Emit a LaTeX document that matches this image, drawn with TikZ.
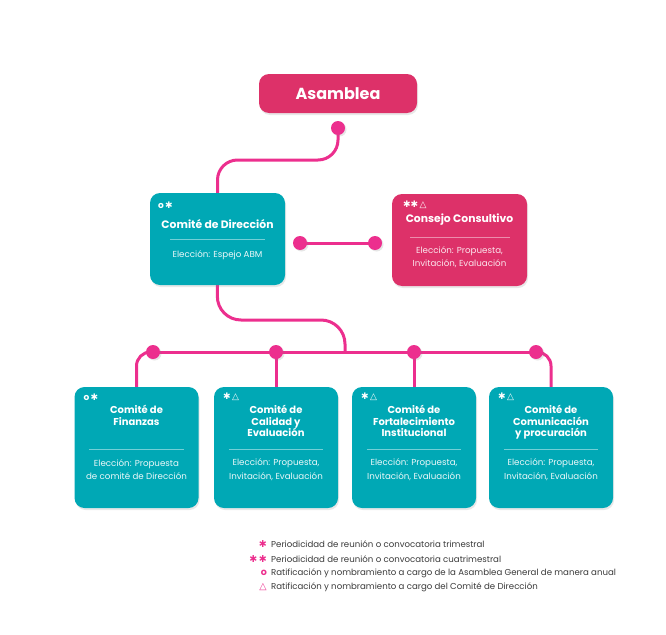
\documentclass[tikz,border=0pt]{standalone}
\usepackage{fontspec}
\setmainfont{Poppins}
\newfontfamily\symfont{DejaVu Sans}
\usetikzlibrary{positioning,calc,shadows,backgrounds}
\definecolor{tealbox}{HTML}{00A8B5}
\definecolor{pinkbox}{HTML}{DD3169}
\definecolor{pinkline}{HTML}{EC2F8E}
\definecolor{legendgrey}{HTML}{3A3A3A}
\newcommand\sAst{{\symfont ✱}}
\newcommand\sRing{\textbf{o}}
\newcommand\sTri{{\symfont △}}
\tikzset{
  box/.style={
    rectangle,
    rounded corners=10pt,
    inner sep=0pt,
    drop shadow={opacity=.18, shadow xshift=1pt, shadow yshift=-2pt}},
  tealcard/.style={box, fill=tealbox, minimum width=135pt, minimum height=92pt},
  pinkcard/.style={box, fill=pinkbox, minimum width=135pt, minimum height=92pt},
  smallcard/.style={box, fill=tealbox, minimum width=124pt, minimum height=121pt},
  dot/.style={
    circle, fill=pinkline, inner sep=0pt, minimum size=14pt,
    drop shadow={opacity=.2, shadow xshift=1.5pt, shadow yshift=-1.5pt}},
  link/.style={draw=pinkline, line width=3pt},
  marks/.style={text=white, inner sep=0pt, font=\fontsize{9}{9}\selectfont},
  bigtitle/.style={text=white, inner sep=0pt, font=\fontsize{10.8}{12}\selectfont\bfseries},
  smalltitle/.style={text=white, inner sep=0pt, align=center,
    font=\fontsize{10}{11.8}\selectfont\bfseries},
  election/.style={text=white!92!tealbox, inner sep=0pt, align=center,
    font=\fontsize{8.7}{13.5}\selectfont},
  rule/.style={draw=white, opacity=.45, line width=.7pt},
  legend/.style={text=legendgrey, inner sep=0pt, anchor=west,
    font=\fontsize{8.6}{10}\selectfont},
  legendmark/.style={text=pinkline, inner sep=0pt, anchor=east,
    font=\fontsize{9.5}{10}\selectfont}
}

\begin{document}
\begin{tikzpicture}[x=1pt, y=-1pt]
    \useasboundingbox (0,0) rectangle (666,634);

    %top
    \node[box, fill=pinkbox, minimum width=158pt, minimum height=39pt,
      text=white, font=\fontsize{16}{18}\selectfont\bfseries] (asm) at (338,93.5) {Asamblea};
    \node[dot] (adot) at (338,128) {};

    %comite de direccion
    \node[tealcard] (dir) at (217.5,239) {};
    \node[marks, anchor=west] (dirmk) at ($(dir.north west)+(8,12)$) {\sRing\,\sAst};
    \node[bigtitle] (dirtt) at ($(dir.north)+(0,31)$) {Comité de Dirección};
    \draw[rule] ($(dir.north west)+(20,47)$) -- ($(dir.north east)+(-20,47)$);
    \node[election] (direl) at ($(dir.north)+(0,62)$) {Elección: Espejo ABM};

    %consejo consultivo
    \node[pinkcard] (cons) at (459.5,240) {};
    \node[marks, anchor=west] (consmk) at ($(cons.north west)+(11,11)$) {\sAst\sAst\,\sTri};
    \node[bigtitle] (constt) at ($(cons.north)+(0,26)$) {Consejo Consultivo};
    \draw[rule] ($(cons.north west)+(18,44)$) -- ($(cons.north east)+(-17,44)$);
    \node[election, text=white!88!pinkbox] (consel) at ($(cons.north)+(0,63.5)$) {Elección: Propuesta,\\Invitación, Evaluación};

    \node[dot] (cdot1) at (300,243) {};
    \node[dot] (cdot2) at (375,243) {};

    %committees
    \foreach \nm/\cx/\mk/\tt/\el in {
      fin/136.5/{\sRing\,\sAst}/{Comité de\\Finanzas}/{Elección: Propuesta\\de comité de Dirección},
      cal/276/{\sAst\,\sTri}/{Comité de\\Calidad y\\Evaluación}/{Elección: Propuesta,\\Invitación, Evaluación},
      fort/414/{\sAst\,\sTri}/{Comité de\\Fortalecimiento\\Institucional}/{Elección: Propuesta,\\Invitación, Evaluación},
      com/551/{\sAst\,\sTri}/{Comité de\\Comunicación\\y procuración}/{Elección: Propuesta,\\Invitación, Evaluación}}
    {
      \node[smallcard] (\nm) at (\cx,447.5) {};
      \node[marks, anchor=west] (\nm mk) at ($(\nm.north west)+(9,10)$) {\mk};
      \node[smalltitle, anchor=north] (\nm tt) at ($(\nm.north)+(0,18)$) {\tt};
      \draw[rule] ($(\nm.north west)+(15,63)$) -- ($(\nm.north east)+(-15,63)$);
      \node[election] (\nm el) at ($(\nm.north)+(0,83)$) {\el};
    }

    \node[dot] (bdot1) at (153,352) {};
    \node[dot] (bdot2) at (276,352) {};
    \node[dot] (bdot3) at (414,352) {};
    \node[dot] (bdot4) at (536,352) {};

    %connections
    \begin{scope}[on background layer]
      \coordinate (abend) at (338,160);
      \draw[link, rounded corners=20pt] (adot.center) -- (abend) -| (dir.north);
      \draw[link] (cdot1.center) -- (cdot2.center);
      \coordinate (dbend) at (217,320);
      \coordinate (join) at (345,352);
      \draw[link, rounded corners=24pt] (dir.south) -- (dbend) -| (join);
      \draw[link] (bdot1.center) -- (bdot4.center);
      \draw[link, rounded corners=14pt] (bdot1.center) -| (fin.north);
      \draw[link] (bdot2.center) -- (bdot2 |- cal.north);
      \draw[link] (bdot3.center) -- (bdot3 |- fort.north);
      \draw[link, rounded corners=14pt] (bdot4.center) -| (com.north);
    \end{scope}

    %legend
    \node[legendmark] (lm1) at (267,544) {\sAst};
    \node[legend] (lg1) at (271,544) {Periodicidad de reunión o convocatoria trimestral};
    \node[legendmark] (lm2) at (267,559) {\sAst\,\sAst};
    \node[legend] (lg2) at (271,559) {Periodicidad de reunión o convocatoria cuatrimestral};
    \node[legendmark] (lm3) at (267,573) {\sRing};
    \node[legend] (lg3) at (271,573) {Ratificación y nombramiento a cargo de la Asamblea General de manera anual};
    \node[legendmark] (lm4) at (267,587) {\sTri};
    \node[legend] (lg4) at (271,587) {Ratificación y nombramiento a cargo del Comité de Dirección};
\end{tikzpicture}
\end{document}
